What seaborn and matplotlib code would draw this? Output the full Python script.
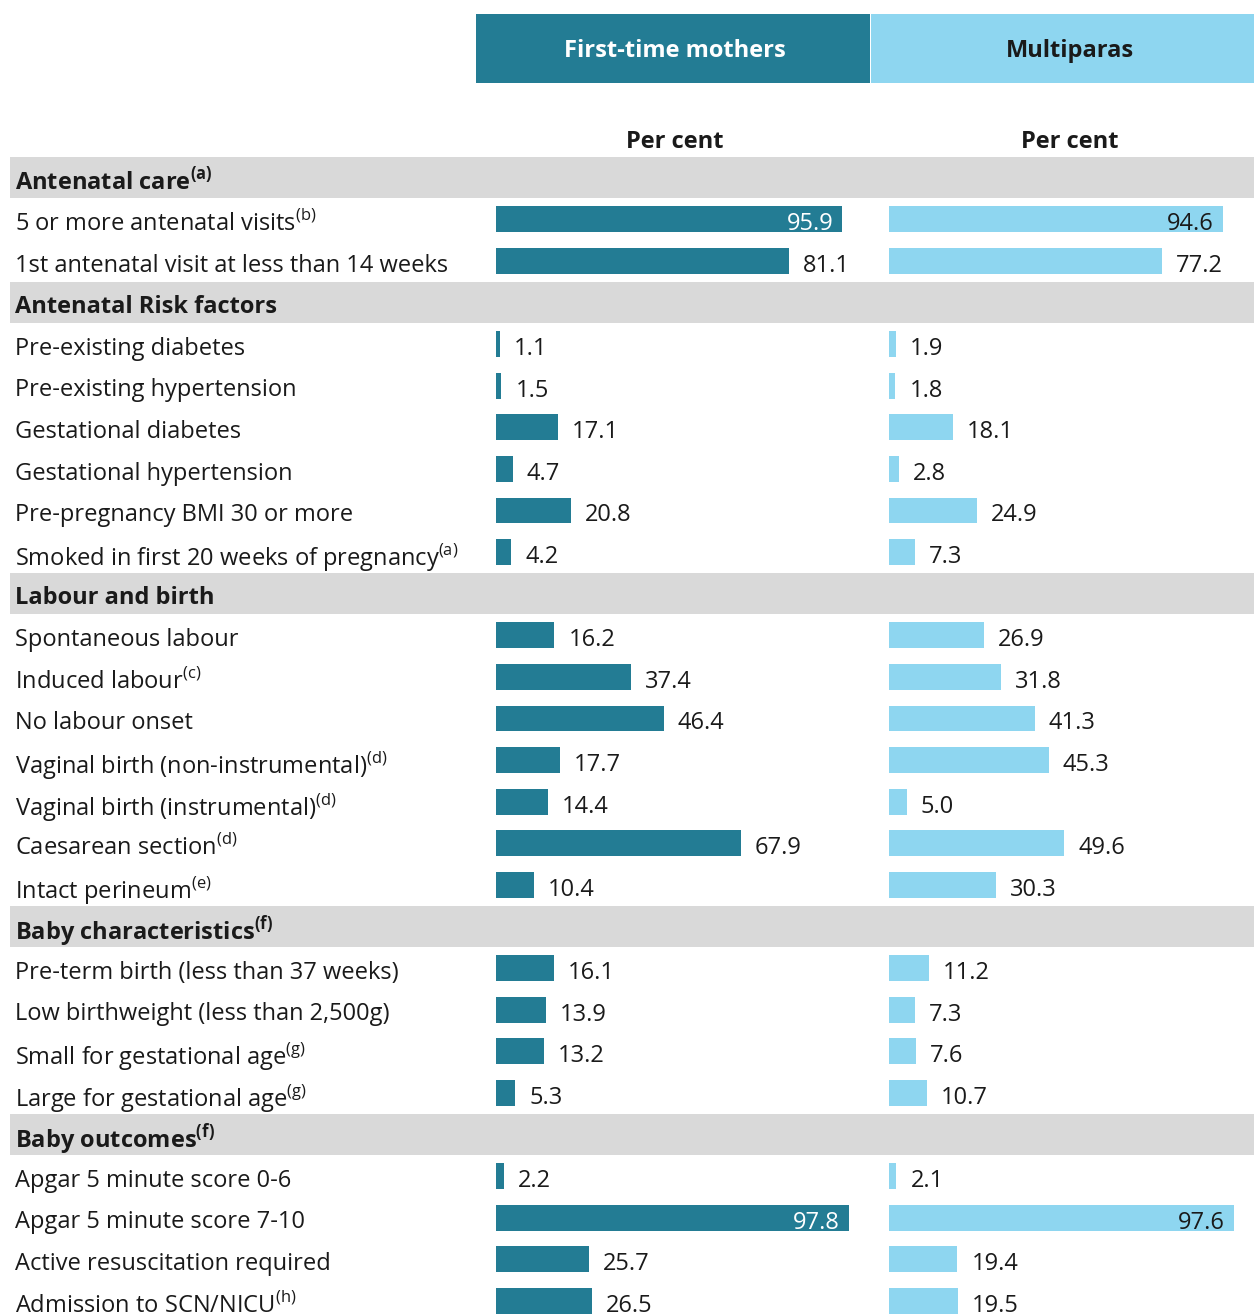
import pandas as pd
import seaborn as sns
import matplotlib.pyplot as plt
from matplotlib.patches import Rectangle

# ---- data ----
row_keys = [
    'Antenatal care', '5 or more antenatal visits', '1st antenatal visit at less than 14 weeks',
    'Antenatal Risk factors', 'Pre-existing diabetes', 'Pre-existing hypertension',
    'Gestational diabetes', 'Gestational hypertension', 'Pre-pregnancy BMI 30 or more',
    'Smoked in first 20 weeks of pregnancy',
    'Labour and birth', 'Spontaneous labour', 'Induced labour', 'No labour onset',
    'Vaginal birth (non-instrumental)', 'Vaginal birth (instrumental)', 'Caesarean section',
    'Intact perineum',
    'Baby characteristics', 'Pre-term birth (less than 37 weeks)',
    'Low birthweight (less than 2,500g)', 'Small for gestational age', 'Large for gestational age',
    'Baby outcomes', 'Apgar 5 minute score 0-6', 'Apgar 5 minute score 7-10',
    'Active resuscitation required', 'Admission to SCN/NICU',
]
footnotes = {
    'Antenatal care': 'a', '5 or more antenatal visits': 'b',
    'Smoked in first 20 weeks of pregnancy': 'a', 'Induced labour': 'c',
    'Vaginal birth (non-instrumental)': 'd', 'Vaginal birth (instrumental)': 'd',
    'Caesarean section': 'd', 'Intact perineum': 'e', 'Baby characteristics': 'f',
    'Small for gestational age': 'g', 'Large for gestational age': 'g',
    'Baby outcomes': 'f', 'Admission to SCN/NICU': 'h',
}
headers = ['Antenatal care', 'Antenatal Risk factors', 'Labour and birth',
           'Baby characteristics', 'Baby outcomes']

first_time = [None, 95.9, 81.1, None, 1.1, 1.5, 17.1, 4.7, 20.8, 4.2,
              None, 16.2, 37.4, 46.4, 17.7, 14.4, 67.9, 10.4,
              None, 16.1, 13.9, 13.2, 5.3, None, 2.2, 97.8, 25.7, 26.5]
multiparas = [None, 94.6, 77.2, None, 1.9, 1.8, 18.1, 2.8, 24.9, 7.3,
              None, 26.9, 31.8, 41.3, 45.3, 5.0, 49.6, 30.3,
              None, 11.2, 7.3, 7.6, 10.7, None, 2.1, 97.6, 19.4, 19.5]

groups = ['First-time mothers', 'Multiparas']
colors = ['#237c94', '#8ed6f0']
text_dark = '#1a1a1a'

df = pd.DataFrame({'row': row_keys, 'first': first_time, 'multi': multiparas})

plt.rcParams['font.family'] = ['Open Sans', 'DejaVu Sans']

W, H = 1254, 1315
fig = plt.figure(figsize=(W / 100, H / 100), dpi=100)

# vertical layout: row centres at 177.7 + 41.6*i px from top
n = len(row_keys)
top_px = 177.7 - 20.8
bot_px = 177.7 + (n - 0.5) * 41.6
ax_bottom = 1 - bot_px / H
ax_height = (bot_px - top_px) / H

# background axes: grey section bands and row labels
bg = fig.add_axes([0, ax_bottom, 1, ax_height])
bg.set_xlim(0, W)
bg.set_ylim(n - 0.5, -0.5)
bg.axis('off')
for i, key in enumerate(row_keys):
    is_head = key in headers
    if is_head:
        bg.axhspan(i - 0.5, i + 0.5, xmin=10 / W, xmax=1, color='#d9d9d9', lw=0)
    label = key
    if key in footnotes:
        label = key + r'$^{\mathregular{(' + footnotes[key] + ')}}$'
    bg.text(15, i + 0.04, label, va='center_baseline', ha='left', fontsize=17,
            fontweight='bold' if is_head else 'normal', color=text_dark)

# bar axes
panels = [('first', 496, 361, colors[0], 'white'),
          ('multi', 889, 353, colors[1], text_dark)]
for col, left_px, width_px, colr, inside_col in panels:
    ax = fig.add_axes([left_px / W, ax_bottom, width_px / W, ax_height])
    data = df.dropna(subset=[col])
    sns.barplot(data=data, x=col, y='row', order=row_keys, orient='h', ax=ax,
                color=colr, saturation=1, width=0.62, linewidth=0)
    ax.set_xlim(0, 100)
    ax.set_ylim(n - 0.5, -0.5)
    ax.patch.set_visible(False)
    ax.axis('off')
    for _, r in data.iterrows():
        i = row_keys.index(r['row'])
        v = r[col]
        if v > 90:
            ax.annotate(f'{v:.1f}', (v, i), xytext=(-9, -2), textcoords='offset pixels',
                        ha='right', va='center_baseline', fontsize=17, color=inside_col)
        else:
            ax.annotate(f'{v:.1f}', (v, i), xytext=(14, -2), textcoords='offset pixels',
                        ha='left', va='center_baseline', fontsize=17, color=text_dark,
                        annotation_clip=False)

# column header boxes
boxes = [(476, 870, 675, colors[0], 'white'), (871, 1254, 1070, colors[1], text_dark)]
for (x0, x1, xc, fc, tc), name in zip(boxes, groups):
    fig.patches.append(Rectangle((x0 / W, 1 - 83 / H), (x1 - x0) / W, 69 / H,
                                 transform=fig.transFigure, color=fc, lw=0))
    fig.text(xc / W, 1 - 48 / H, name, ha='center', va='center_baseline',
             fontsize=17, fontweight='bold', color=tc)
    fig.text(xc / W, 1 - 139 / H, 'Per cent', ha='center', va='center_baseline',
             fontsize=17, fontweight='bold', color=text_dark)

fig.savefig('out.png', dpi=100)
